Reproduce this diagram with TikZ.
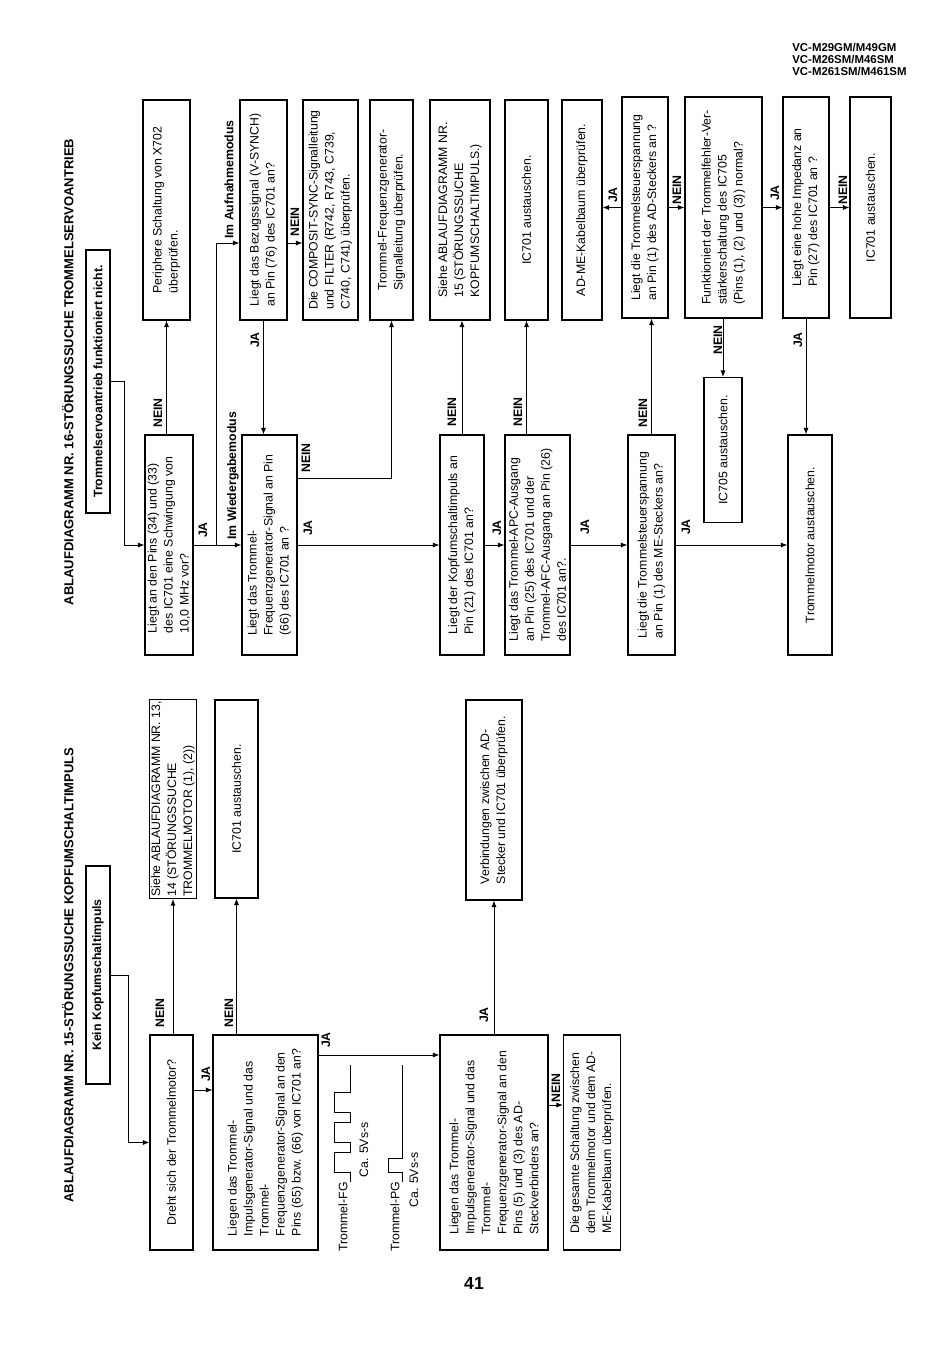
\documentclass[tikz,border=0pt]{standalone}
\usepackage{fontspec}
\setmainfont{Liberation Sans}
\usetikzlibrary{arrows.meta}

\tikzset{
    box/.style 2 args={draw, line width=0.6pt, rotate=90, align=left, inner sep=1pt,
        minimum width=#1*0.02cm, minimum height=#2*0.02cm,
        font=\fontsize{7}{9.1}\selectfont},
    lbl/.style={rotate=90, inner sep=0pt, font=\fontsize{7}{8}\selectfont\bfseries},
    ttl/.style={rotate=90, inner sep=0pt, font=\fontsize{7.4}{9}\selectfont\bfseries},
    txt/.style={rotate=90, inner sep=0pt, font=\fontsize{7}{9}\selectfont},
    arr/.style={line width=0.5pt, -{Latex[length=1.3mm,width=1mm]}},
    wave/.style={line width=0.5pt},
}

\begin{document}
\begin{tikzpicture}[x=0.02cm, y=-0.02cm]
    \useasboundingbox (0,0) rectangle (950,1361);
    \node[anchor=north west, align=left, inner sep=0pt, font=\fontsize{6.5}{6.9}\selectfont\bfseries] (hdr) at (792,43)
        {VC-M29GM/M49GM\\VC-M26SM/M46SM\\VC-M261SM/M461SM};
    \node[font=\fontsize{10}{12}\selectfont\bfseries] (pnum) at (474,1283) {41};

    % Nr. 15 - Kopfumschaltimpuls
    \node[ttl] (title15) at (68,975) {ABLAUFDIAGRAMM NR. 15-STÖRUNGSSUCHE KOPFUMSCHALTIMPULS};
    \node[box={218}{24}, font=\fontsize{7}{9}\selectfont\bfseries] (kein) at (98,975) {Kein Kopfumschaltimpuls};
    \node[box={215}{43}] (dreht) at (171.5,1142.5) {Dreht sich der Trommelmotor?};
    \node[box={198}{46}] (siehe13) at (173,799) {Siehe ABLAUFDIAGRAMM NR. 13,\\14 (STÖRUNGSSUCHE\\TROMMELMOTOR (1), (2))};
    \node[box={198}{43}] (icA) at (236.5,799) {IC701 austauschen.};
    \node[box={215}{105}] (liegenA) at (265.5,1142.5) {Liegen das Trommel-\\Impulsgenerator-Signal und das\\Trommel-\\Frequenzgenerator-Signal an den\\Pins (65) bzw. (66) von IC701 an?};
    \node[box={215}{108}] (liegenB) at (494,1142.5) {Liegen das Trommel-\\Impulsgenerator-Signal und das\\Trommel-\\Frequenzgenerator-Signal an den\\Pins (5) und (3) des AD-\\Steckverbinders an?};
    \node[box={200}{56}] (verbind) at (494,800) {Verbindungen zwischen AD-\\Stecker und IC701 überprüfen.};
    \node[box={215}{57}] (gesamt) at (592,1142.5) {Die gesamte Schaltung zwischen\\dem Trommelmotor und dem AD-\\ME-Kabelbaum überprüfen.};

    \coordinate (k1) at (128,975);
    \draw[arr] (kein.south) -- (k1) |- (dreht.north);
    \draw[arr] (dreht.east -| siehe13.west) -- (siehe13.west);
    \draw[arr] (dreht.south |- 0,1090) -- (liegenA.north |- 0,1090);
    \draw[arr] (liegenA.east -| icA.west) -- (icA.west);
    \draw[arr] (liegenA.south |- 0,1055) -- (liegenB.north |- 0,1055);
    \draw[arr] (liegenB.east -| verbind.west) -- (verbind.west);
    \draw[arr] (liegenB.south |- 0,1105) -- (gesamt.north |- 0,1105);
    % labels
        \node[lbl] at (160,1013) {NEIN};
        \node[lbl] at (229,1013) {NEIN};
        \node[lbl] at (206,1074) {JA};
        \node[lbl] at (326,1040) {JA};
        \node[lbl] at (484,1015) {JA};
        \node[lbl] at (556,1088) {NEIN};

    % signal shapes
        \node[txt] (fg) at (343,1217) {Trommel-FG};
        \node[txt] (cafg) at (364,1150) {Ca. 5Vs-s};
        \node[txt] (pg) at (395,1217) {Trommel-PG};
        \node[txt] (capg) at (414,1180) {Ca. 5Vs-s};
        \draw[wave] (350,1182) -- (350,1172) -- (334,1172) -- (334,1152) -- (350,1152) -- (350,1142)
            -- (334,1142) -- (334,1122) -- (350,1122) -- (350,1112) -- (334,1112) -- (334,1092)
            -- (350,1092) -- (350,1065);
        \draw[wave] (402,1182) -- (402,1172) -- (388,1172) -- (388,1158) -- (402,1158) -- (402,1065);

    % Nr. 16 - Trommelservoantrieb
    \node[ttl] (title16) at (68,372) {ABLAUFDIAGRAMM NR. 16-STÖRUNGSSUCHE TROMMELSERVOANTRIEB};
    \node[box={263}{24}, font=\fontsize{7}{9}\selectfont\bfseries] (start) at (98,381.5) {Trommelservoantrieb funktioniert nicht.};
    \node[box={220}{48}] (pins) at (169,545) {Liegt an den Pins (34) und (33)\\des IC701 eine Schwingung von\\10,0 MHz vor?};
    \node[box={220}{47}] (periph) at (166.5,210) {Periphere Schaltung von X702\\überprüfen.};
    \node[box={220}{47}] (bezug) at (263.5,210) {Liegt das Bezugssignal (V-SYNCH)\\an Pin (76) des IC701 an?};
    \node[box={220}{55}] (trommel) at (269.5,545) {Liegt das Trommel-\\Frequenzgenerator-Signal an Pin\\(66) des IC701 an ?};
    \node[box={220}{55}] (composit) at (330.5,210) {Die COMPOSIT-SYNC-Signalleitung\\und FILTER (R742, R743, C739,\\C740, C741) überprüfen.};
    \node[box={220}{43}] (fgline) at (391.5,210) {Trommel-Frequenzgenerator-\\Signalleitung überprüfen.};
    \node[box={220}{60}] (siehe15) at (460,210) {Siehe ABLAUFDIAGRAMM NR.\\15 (STÖRUNGSSUCHE\\KOPFUMSCHALTIMPULS.)};
    \node[box={220}{44}] (kopf) at (462,545) {Liegt der Kopfumschaltimpuls an\\Pin (21) des IC701 an?};
    \node[box={220}{43}] (icB) at (526.5,210) {IC701 austauschen.};
    \node[box={220}{65}] (apc) at (537.5,545) {Liegt das Trommel-APC-Ausgang\\an Pin (25) des IC701 und der\\Trommel-AFC-Ausgang an Pin (26)\\des IC701 an?.};
    \node[box={220}{40}] (adme) at (582,210) {AD-ME-Kabelbaum überprüfen.};
    \node[box={221}{46}] (adst) at (645,207.5) {Liegt die Trommelsteuerspannung\\an Pin (1) des AD-Steckers an ?};
    \node[box={220}{47}] (mest) at (651.5,545) {Liegt die Trommelsteuerspannung\\an Pin (1) des ME-Steckers an?};
    \node[box={221}{77}] (funk) at (723.5,207.5) {Funktioniert der Trommelfehler-Ver-\\stärkerschaltung des IC705\\(Pins (1), (2) und (3)) normal?};
    \node[box={145}{38}] (icC) at (723,450) {IC705 austauschen.};
    \node[box={221}{46}] (hohe) at (806,207.5) {Liegt eine hohe Impedanz an\\Pin (27) des IC701 an ?};
    \node[box={221}{41}] (icD) at (870.5,207.5) {IC701 austauschen.};
    \node[box={220}{44}] (motor) at (810,545) {Trommelmotor austauschen.};

    \coordinate (s1) at (124,381.5);
    \coordinate (j1) at (216,545);
    \draw[arr] (start.south) -- (s1) |- (pins.north);
    \draw[arr] (pins.east -| periph.west) -- (periph.west);
    \draw[arr] (pins.south) -- (trommel.north);
    \draw[arr] (j1) |- (bezug.north |- 0,243);
    \draw[arr] (bezug.south |- 0,243) -- (composit.north |- 0,243);
    \draw[arr] (bezug.west) -- (bezug.west |- trommel.east);
    \draw[arr] (trommel.south |- 0,478) -| (fgline.west);
    \draw[arr] (trommel.south) -- (kopf.north);
    \draw[arr] (kopf.east) -- (kopf.east |- siehe15.west);
    \draw[arr] (kopf.south) -- (apc.north);
    \draw[arr] (apc.east -| icB.west) -- (icB.west);
    \draw[arr] (apc.south) -- (mest.north);
    \draw[arr] (mest.east) -- (mest.east |- adst.west);
    \draw[arr] (mest.south) -- (motor.north);
    \draw[arr] (adst.north) -- (adst.north -| adme.south);
    \draw[arr] (adst.south) -- (adst.south -| funk.north);
    \draw[arr] (funk.west -| icC.east) -- (icC.east);
    \draw[arr] (funk.south) -- (funk.south -| hohe.north);
    \draw[arr] (hohe.south) -- (hohe.south -| icD.north);
    \draw[arr] (hohe.west) -- (hohe.west |- motor.east);
    % labels
        \node[lbl, anchor=west] at (229,239) {Im Aufnahmemodus};
        \node[lbl, anchor=west] at (233,540) {Im Wiedergabemodus};
        \node[lbl] at (158,413) {NEIN};
        \node[lbl] at (203,530) {JA};
        \node[lbl] at (255,340) {JA};
        \node[lbl] at (295,222) {NEIN};
        \node[lbl] at (306,458) {NEIN};
        \node[lbl] at (308,528) {JA};
        \node[lbl] at (452,412) {NEIN};
        \node[lbl] at (497,528) {JA};
        \node[lbl] at (518,412) {NEIN};
        \node[lbl] at (585,527) {JA};
        \node[lbl] at (643,413) {NEIN};
        \node[lbl] at (686,527) {JA};
        \node[lbl] at (613,195) {JA};
        \node[lbl] at (677,190) {NEIN};
        \node[lbl] at (718,340) {NEIN};
        \node[lbl] at (775,193) {JA};
        \node[lbl] at (843,190) {NEIN};
        \node[lbl] at (798,340) {JA};
\end{tikzpicture}
\end{document}
